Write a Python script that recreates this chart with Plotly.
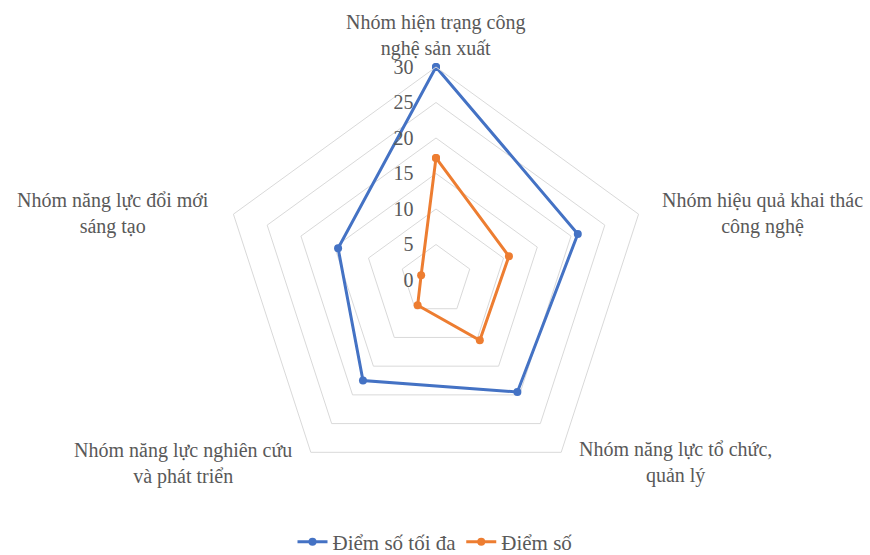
import plotly.graph_objects as go

categories = [
    "Nhóm hiện trạng công<br>nghệ sản xuất",
    "Nhóm hiệu quả khai thác<br>công nghệ",
    "Nhóm năng lực tổ chức,<br>quản lý",
    "Nhóm năng lực nghiên cứu<br>và phát triển",
    "Nhóm năng lực đổi mới<br>sáng tạo",
]
max_scores = [30, 21, 19.5, 17.5, 14.5]
scores = [17.2, 10.8, 10.5, 4.4, 2.2]
series_names = ["Điểm số tối đa", "Điểm số"]
radial_ticks = [0, 5, 10, 15, 20, 25, 30]

FONT = "Liberation Serif"
GRAY = "#595959"
FS = 20

fig = go.Figure()
for name, vals, color in [(series_names[0], max_scores, "#4472C4"),
                          (series_names[1], scores, "#ED7D31")]:
    fig.add_trace(go.Scatterpolar(
        r=vals + [vals[0]],
        theta=categories + [categories[0]],
        mode="lines+markers",
        name=name,
        line=dict(color=color, width=3),
        marker=dict(color=color, size=8),
    ))

W, H = 870, 555
cx, cy, R = 436, 280, 213

# category label placement (pixel centres in the page)
label_pos = [(436, 35), (762, 213), (675, 462), (183, 463), (113, 213)]
for text, (px, py) in zip(categories, label_pos):
    fig.add_annotation(
        text=text, x=px / W, y=1 - py / H, xref="paper", yref="paper",
        xanchor="center", yanchor="middle", align="center", showarrow=False,
        font=dict(family=FONT, size=FS, color=GRAY),
    )

fig.update_layout(
    width=W, height=H,
    margin=dict(l=0, r=0, t=0, b=0, autoexpand=False),
    paper_bgcolor="white",
    plot_bgcolor="white",
    font=dict(family=FONT, color=GRAY, size=FS),
    polar=dict(
        domain=dict(x=[(cx - R) / W, (cx + R) / W],
                    y=[1 - (cy + R) / H, 1 - (cy - R) / H]),
        bgcolor="white",
        gridshape="linear",
        angularaxis=dict(
            rotation=90, direction="clockwise",
            showgrid=False, showline=True, linecolor="#d9d9d9", linewidth=1,
            ticks="", showticklabels=False,
        ),
        radialaxis=dict(
            range=[0, 30], tickvals=radial_ticks, angle=90, tickangle=90,
            side="counterclockwise",
            showline=False, ticks="outside", ticklen=15, tickcolor="rgba(0,0,0,0)",
            gridcolor="#d9d9d9", gridwidth=1,
            tickfont=dict(family=FONT, size=FS, color=GRAY),
        ),
    ),
    legend=dict(orientation="h", x=0.5, xanchor="center", y=1 - 542 / H, yanchor="middle",
                font=dict(family=FONT, size=21, color=GRAY)),
)

fig.write_html("out.html")
